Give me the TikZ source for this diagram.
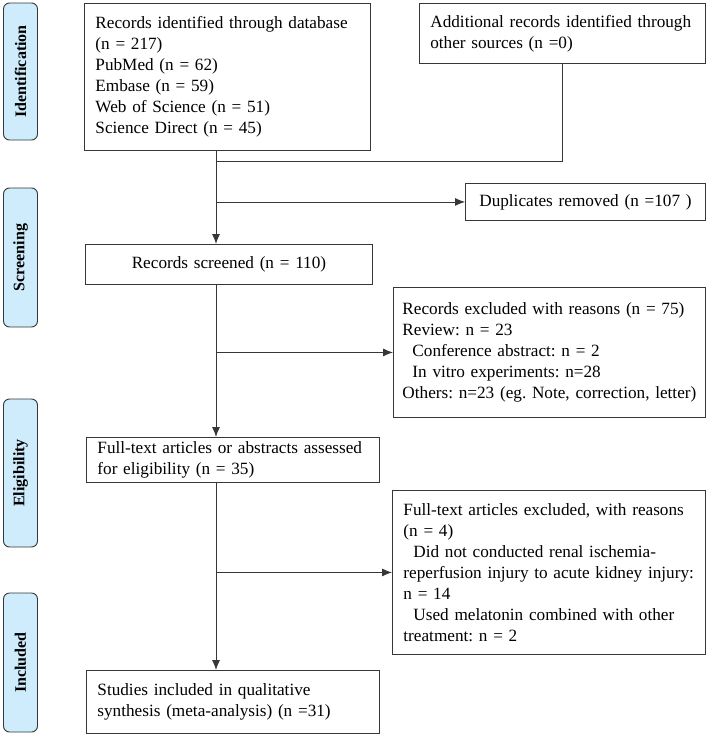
\documentclass[tikz,border=0pt]{standalone}
\usepackage{fontspec}
\setmainfont{Liberation Serif}
\usetikzlibrary{shapes,arrows.meta,positioning,calc}

\definecolor{stageblue}{RGB}{206,236,252}
\definecolor{edgegray}{RGB}{55,55,55}

\begin{document}
\frenchspacing
\begin{tikzpicture}[x=1pt, y=-1pt, node distance=12pt,
        box/.style={rectangle, draw=edgegray, line width=0.9pt, align=left, inner xsep=11pt, inner ysep=4pt, anchor=north west, font=\fontsize{17.2}{21}\selectfont},
        stage/.style={rectangle, rounded corners=6pt, draw=edgegray, line width=0.9pt, fill=stageblue, rotate=90, minimum height=34pt, inner sep=0pt, font=\bfseries\fontsize{16}{18}\selectfont},
        link/.style={draw=edgegray, line width=0.9pt},
        arrow/.style={link, -{Latex[length=10pt, width=8pt]}}]

        \useasboundingbox (0,0) rectangle (708,736);

        % stages on the left
        \node[stage, minimum width=137pt] (ident) at (20.5,71.5) {Identification};
        \node[stage, minimum width=139pt] (screen) at (20.5,257.5) {Screening};
        \node[stage, minimum width=148pt] (elig) at (20.5,473) {Eligibility};
        \node[stage, minimum width=139pt] (incl) at (20.5,662.5) {Included};

        % flow boxes
        \node[box, text width=264pt, minimum height=147pt] (db) at (84,3) {Records identified through database\\(n = 217)\\PubMed (n = 62)\\Embase (n = 59)\\Web of Science (n = 51)\\Science Direct (n = 45)};
        \node[box, text width=264pt, minimum height=60pt, right=48pt of db.north east, anchor=north west] (other) {Additional records identified through\\other sources (n =0)};
        \node[box, align=center, text width=218pt, minimum height=37pt] (dup) at (465,183) {Duplicates removed (n =107 )};
        \node[box, align=center, text width=265pt, minimum height=40pt] (screened) at (85,244) {Records screened (n = 110)};
        \node[box, inner xsep=9pt, text width=294pt, minimum height=130pt] (excl) at (393,287) {Records excluded with reasons (n = 75)\\Review: n = 23\\\hspace*{10pt}Conference abstract: n = 2\\\hspace*{10pt}In vitro experiments: n=28\\Others: n=23 (eg. Note, correction, letter)};
        \node[box, text width=271pt, minimum height=41pt] (assess) at (86,437) {Full-text articles or abstracts assessed\\for eligibility (n = 35)};
        \node[box, text width=291pt, minimum height=164pt] (ftexcl) at (392,490) {Full-text articles excluded, with reasons\\(n = 4)\\\hspace*{10pt}Did not conducted renal ischemia-\\reperfusion injury to acute kidney injury:\\n = 14\\\hspace*{10pt}Used melatonin combined with other\\treatment: n = 2};
        \node[box, text width=271pt, minimum height=63pt] (studies) at (86,670) {Studies included in qualitative\\synthesis (meta-analysis) (n =31)};

        % connectors
        \coordinate (trunk) at (216,0);
        \coordinate (join) at (216,161);
        \draw[link] (other.south) |- (join);
        \draw[arrow] (db.south -| trunk) -- (screened.north -| trunk);
        \draw[arrow] (trunk |- dup.west) -- (dup.west);
        \draw[arrow] (screened.south -| trunk) -- (assess.north -| trunk);
        \draw[arrow] (trunk |- excl.west) -- (excl.west);
        \draw[arrow] (assess.south -| trunk) -- (studies.north -| trunk);
        \draw[arrow] (trunk |- ftexcl.west) -- (ftexcl.west);

\end{tikzpicture}
\end{document}
